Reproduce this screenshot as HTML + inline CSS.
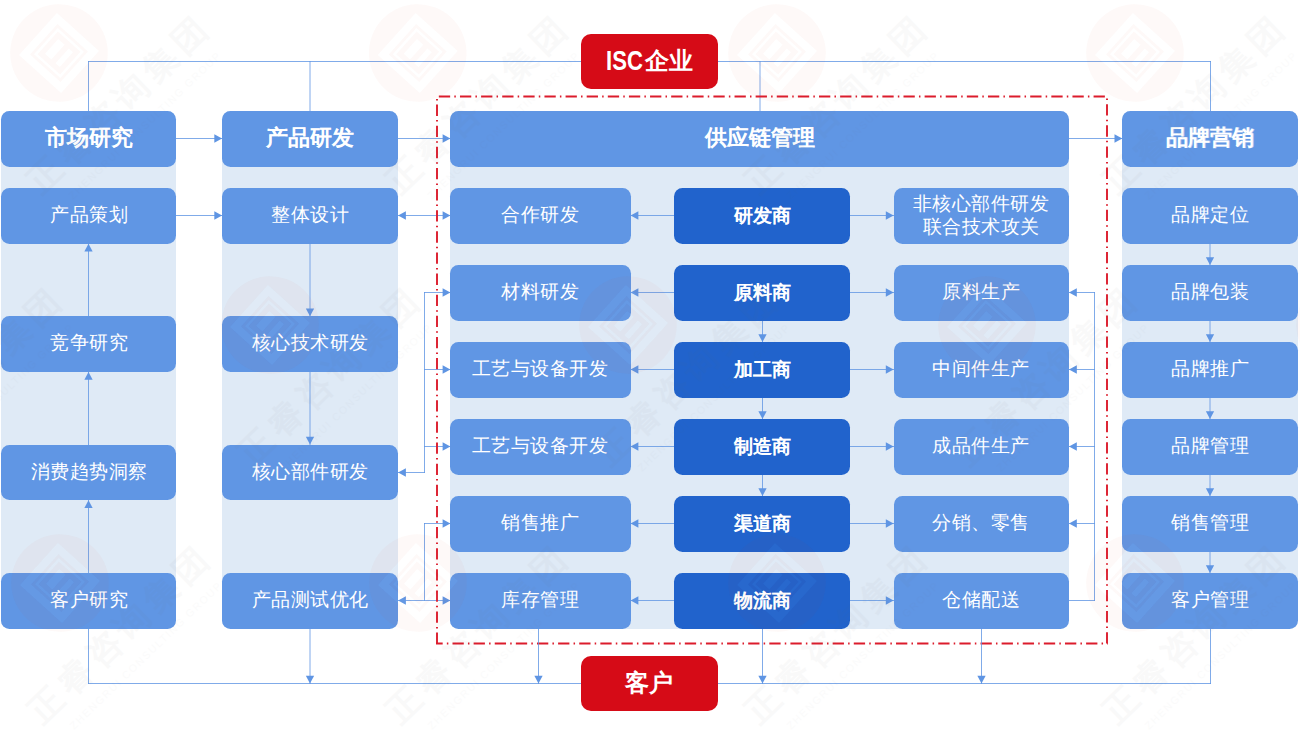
<!DOCTYPE html>
<html><head><meta charset="utf-8"><style>
html,body{margin:0;padding:0;background:#fff;}
body{width:1300px;height:733px;position:relative;overflow:hidden;font-family:"Liberation Sans",sans-serif;}
.bg{position:absolute;background:#dfeaf6;border-radius:8.5px;}
.bx{position:absolute;box-sizing:border-box;background:#6096e4;border-radius:8.5px;color:#fff;display:flex;align-items:center;justify-content:center;text-align:center;font-size:19.5px;line-height:23.5px;}
.bx .t{position:relative;top:-0.9px;transform:scale(0.975);}
.two{line-height:23px;}
.two .t{top:-1.2px;}
.hd{font-weight:bold;font-size:22px;text-shadow:0.35px 0 0 rgba(255,255,255,0.45);}
.hd .t{top:-1.1px;transform:none;}
.dk{background:#2163cc;font-weight:bold;font-size:19px;text-shadow:0.35px 0 0 rgba(255,255,255,0.45);}
.dk .t{top:-0.5px;transform:none;}
.rd{background:#d60b17;font-weight:bold;font-size:25px;border-radius:10px;}
.rd .t{top:-1.0px;transform:scale(0.975);}
.lat{font-size:28px;display:inline-block;transform:scaleX(0.81);transform-origin:right center;margin-right:2px;margin-left:-8.9px;position:relative;top:1px;}
svg{position:absolute;left:0;top:0;}
</style></head><body>
<div class="bg" style="left:0.9px;top:111.05px;width:175.4px;height:517.70px"></div>
<div class="bg" style="left:222.1px;top:111.05px;width:176.0px;height:517.70px"></div>
<div class="bg" style="left:450.4px;top:111.05px;width:618.6px;height:517.70px"></div>
<div class="bg" style="left:1122.3px;top:111.05px;width:176.0px;height:517.70px"></div>
<svg width="1300" height="733" style="z-index:1">
<g stroke="#5f95e3" stroke-width="0.8" fill="none" stroke-linecap="square"><path d="M88.50,61.50L1210.50,61.50"/><path d="M88.50,61.50L88.50,111.05"/><path d="M310.00,61.50L310.00,111.05"/><path d="M760.00,61.50L760.00,111.05"/><path d="M1210.50,61.50L1210.50,111.05"/><path d="M88.50,683.50L1210.50,683.50"/><path d="M88.50,628.75L88.50,683.50"/><path d="M310.00,628.75L310.00,683.50"/><path d="M1210.50,628.75L1210.50,683.50"/><path d="M176.30,138.50L222.10,138.50"/><path d="M398.10,138.50L450.40,138.50"/><path d="M1069.00,138.50L1122.30,138.50"/><path d="M176.30,215.50L222.10,215.50"/><path d="M398.10,215.50L450.40,215.50"/><path d="M630.60,215.50L674.10,215.50"/><path d="M850.10,215.50L893.60,215.50"/><path d="M630.60,292.50L674.10,292.50"/><path d="M850.10,292.50L893.60,292.50"/><path d="M630.60,369.50L674.10,369.50"/><path d="M850.10,369.50L893.60,369.50"/><path d="M630.60,446.50L674.10,446.50"/><path d="M850.10,446.50L893.60,446.50"/><path d="M630.60,523.50L674.10,523.50"/><path d="M850.10,523.50L893.60,523.50"/><path d="M630.60,600.50L674.10,600.50"/><path d="M850.10,600.50L893.60,600.50"/><path d="M424.50,292.50L424.50,472.50"/><path d="M424.50,292.50L450.40,292.50"/><path d="M424.50,369.50L450.40,369.50"/><path d="M424.50,446.50L450.40,446.50"/><path d="M398.10,472.50L424.50,472.50"/><path d="M424.50,523.50L424.50,600.50"/><path d="M424.50,523.50L450.40,523.50"/><path d="M398.10,600.50L450.40,600.50"/><path d="M1069.00,600.50L1094.50,600.50"/><path d="M1094.50,600.50L1094.50,292.50"/><path d="M1069.00,292.50L1094.50,292.50"/><path d="M1069.00,369.50L1094.50,369.50"/><path d="M1069.00,446.50L1094.50,446.50"/><path d="M1069.00,523.50L1094.50,523.50"/><path d="M88.50,316.20L88.50,243.75"/><path d="M88.50,444.60L88.50,371.90"/><path d="M88.50,573.05L88.50,500.30"/><path d="M310.00,243.75L310.00,316.20"/><path d="M310.00,371.90L310.00,444.60"/><path d="M762.50,320.75L762.50,342.05"/><path d="M762.50,397.75L762.50,419.05"/><path d="M762.50,474.75L762.50,496.05"/><path d="M1210.00,243.75L1210.00,265.05"/><path d="M1210.00,320.75L1210.00,342.05"/><path d="M1210.00,397.75L1210.00,419.05"/><path d="M1210.00,474.75L1210.00,496.05"/><path d="M1210.00,551.75L1210.00,573.05"/></g>
<g fill="#5f95e3"><path d="M310.00,683.50L305.85,675.70L314.15,675.70Z"/><path d="M222.10,138.50L214.30,134.35L214.30,142.65Z"/><path d="M450.40,138.50L442.60,134.35L442.60,142.65Z"/><path d="M1122.30,138.50L1114.50,134.35L1114.50,142.65Z"/><path d="M222.10,215.50L214.30,211.35L214.30,219.65Z"/><path d="M450.40,215.50L442.60,211.35L442.60,219.65Z"/><path d="M398.10,215.50L405.90,211.35L405.90,219.65Z"/><path d="M630.60,215.50L638.40,211.35L638.40,219.65Z"/><path d="M893.60,215.50L885.80,211.35L885.80,219.65Z"/><path d="M630.60,292.50L638.40,288.35L638.40,296.65Z"/><path d="M893.60,292.50L885.80,288.35L885.80,296.65Z"/><path d="M630.60,369.50L638.40,365.35L638.40,373.65Z"/><path d="M893.60,369.50L885.80,365.35L885.80,373.65Z"/><path d="M630.60,446.50L638.40,442.35L638.40,450.65Z"/><path d="M893.60,446.50L885.80,442.35L885.80,450.65Z"/><path d="M630.60,523.50L638.40,519.35L638.40,527.65Z"/><path d="M893.60,523.50L885.80,519.35L885.80,527.65Z"/><path d="M630.60,600.50L638.40,596.35L638.40,604.65Z"/><path d="M893.60,600.50L885.80,596.35L885.80,604.65Z"/><path d="M450.40,292.50L442.60,288.35L442.60,296.65Z"/><path d="M450.40,369.50L442.60,365.35L442.60,373.65Z"/><path d="M450.40,446.50L442.60,442.35L442.60,450.65Z"/><path d="M398.10,472.50L405.90,468.35L405.90,476.65Z"/><path d="M450.40,523.50L442.60,519.35L442.60,527.65Z"/><path d="M450.40,600.50L442.60,596.35L442.60,604.65Z"/><path d="M398.10,600.50L405.90,596.35L405.90,604.65Z"/><path d="M1069.00,292.50L1076.80,288.35L1076.80,296.65Z"/><path d="M1069.00,369.50L1076.80,365.35L1076.80,373.65Z"/><path d="M1069.00,446.50L1076.80,442.35L1076.80,450.65Z"/><path d="M1069.00,523.50L1076.80,519.35L1076.80,527.65Z"/><path d="M88.50,243.75L84.35,251.55L92.65,251.55Z"/><path d="M88.50,371.90L84.35,379.70L92.65,379.70Z"/><path d="M88.50,500.30L84.35,508.10L92.65,508.10Z"/><path d="M310.00,316.20L305.85,308.40L314.15,308.40Z"/><path d="M310.00,444.60L305.85,436.80L314.15,436.80Z"/><path d="M762.50,342.05L758.35,334.25L766.65,334.25Z"/><path d="M762.50,419.05L758.35,411.25L766.65,411.25Z"/><path d="M762.50,496.05L758.35,488.25L766.65,488.25Z"/><path d="M1210.00,265.05L1205.85,257.25L1214.15,257.25Z"/><path d="M1210.00,342.05L1205.85,334.25L1214.15,334.25Z"/><path d="M1210.00,419.05L1205.85,411.25L1214.15,411.25Z"/><path d="M1210.00,496.05L1205.85,488.25L1214.15,488.25Z"/><path d="M1210.00,573.05L1205.85,565.25L1214.15,565.25Z"/></g>
<g stroke="#dc1c2c" stroke-width="1.9" fill="none" stroke-dasharray="11.3 4.16 1.5 4.16"><path d="M436.0,96.5L1108.0,96.5" stroke-dashoffset="18.27"/><path d="M437.0,95.5L437.0,644.5" stroke-dashoffset="12.00"/><path d="M1107.0,95.5L1107.0,644.5" stroke-dashoffset="12.40"/><path d="M436.0,643.5L1108.0,643.5" stroke-dashoffset="4.62"/></g>
<g stroke="#5f95e3" stroke-width="0.8" fill="none" stroke-linecap="square"><path d="M538.50,628.75L538.50,683.50"/><path d="M762.50,628.75L762.50,683.50"/><path d="M981.50,628.75L981.50,683.50"/></g>
<g fill="#5f95e3"><path d="M538.50,683.50L534.35,675.70L542.65,675.70Z"/><path d="M762.50,683.50L758.35,675.70L766.65,675.70Z"/><path d="M981.50,683.50L977.35,675.70L985.65,675.70Z"/></g>
</svg>
<div style="position:absolute;left:0;top:0;z-index:2">
<div class="bx hd" style="left:0.9px;top:111.05px;width:175.4px;height:55.7px"><span class="t">市场研究</span></div><div class="bx" style="left:0.9px;top:188.05px;width:175.4px;height:55.7px"><span class="t">产品策划</span></div><div class="bx" style="left:0.9px;top:316.20px;width:175.4px;height:55.7px"><span class="t">竞争研究</span></div><div class="bx" style="left:0.9px;top:444.60px;width:175.4px;height:55.7px"><span class="t">消费趋势洞察</span></div><div class="bx" style="left:0.9px;top:573.05px;width:175.4px;height:55.7px"><span class="t">客户研究</span></div><div class="bx hd" style="left:222.1px;top:111.05px;width:176.0px;height:55.7px"><span class="t">产品研发</span></div><div class="bx" style="left:222.1px;top:188.05px;width:176.0px;height:55.7px"><span class="t">整体设计</span></div><div class="bx" style="left:222.1px;top:316.20px;width:176.0px;height:55.7px"><span class="t">核心技术研发</span></div><div class="bx" style="left:222.1px;top:444.60px;width:176.0px;height:55.7px"><span class="t">核心部件研发</span></div><div class="bx" style="left:222.1px;top:573.05px;width:176.0px;height:55.7px"><span class="t">产品测试优化</span></div><div class="bx hd" style="left:450.4px;top:111.05px;width:618.6px;height:55.7px"><span class="t">供应链管理</span></div><div class="bx" style="left:450.4px;top:188.05px;width:180.2px;height:55.7px"><span class="t">合作研发</span></div><div class="bx dk" style="left:674.1px;top:188.05px;width:176.0px;height:55.7px"><span class="t">研发商</span></div><div class="bx two" style="left:893.6px;top:188.05px;width:175.4px;height:55.7px"><span class="t">非核心部件研发<br>联合技术攻关</span></div><div class="bx" style="left:450.4px;top:265.05px;width:180.2px;height:55.7px"><span class="t">材料研发</span></div><div class="bx dk" style="left:674.1px;top:265.05px;width:176.0px;height:55.7px"><span class="t">原料商</span></div><div class="bx" style="left:893.6px;top:265.05px;width:175.4px;height:55.7px"><span class="t">原料生产</span></div><div class="bx" style="left:450.4px;top:342.05px;width:180.2px;height:55.7px"><span class="t">工艺与设备开发</span></div><div class="bx dk" style="left:674.1px;top:342.05px;width:176.0px;height:55.7px"><span class="t">加工商</span></div><div class="bx" style="left:893.6px;top:342.05px;width:175.4px;height:55.7px"><span class="t">中间件生产</span></div><div class="bx" style="left:450.4px;top:419.05px;width:180.2px;height:55.7px"><span class="t">工艺与设备开发</span></div><div class="bx dk" style="left:674.1px;top:419.05px;width:176.0px;height:55.7px"><span class="t">制造商</span></div><div class="bx" style="left:893.6px;top:419.05px;width:175.4px;height:55.7px"><span class="t">成品件生产</span></div><div class="bx" style="left:450.4px;top:496.05px;width:180.2px;height:55.7px"><span class="t">销售推广</span></div><div class="bx dk" style="left:674.1px;top:496.05px;width:176.0px;height:55.7px"><span class="t">渠道商</span></div><div class="bx" style="left:893.6px;top:496.05px;width:175.4px;height:55.7px"><span class="t">分销、零售</span></div><div class="bx" style="left:450.4px;top:573.05px;width:180.2px;height:55.7px"><span class="t">库存管理</span></div><div class="bx dk" style="left:674.1px;top:573.05px;width:176.0px;height:55.7px"><span class="t">物流商</span></div><div class="bx" style="left:893.6px;top:573.05px;width:175.4px;height:55.7px"><span class="t">仓储配送</span></div><div class="bx hd" style="left:1122.3px;top:111.05px;width:176.0px;height:55.7px"><span class="t">品牌营销</span></div><div class="bx" style="left:1122.3px;top:188.05px;width:176.0px;height:55.7px"><span class="t">品牌定位</span></div><div class="bx" style="left:1122.3px;top:265.05px;width:176.0px;height:55.7px"><span class="t">品牌包装</span></div><div class="bx" style="left:1122.3px;top:342.05px;width:176.0px;height:55.7px"><span class="t">品牌推广</span></div><div class="bx" style="left:1122.3px;top:419.05px;width:176.0px;height:55.7px"><span class="t">品牌管理</span></div><div class="bx" style="left:1122.3px;top:496.05px;width:176.0px;height:55.7px"><span class="t">销售管理</span></div><div class="bx" style="left:1122.3px;top:573.05px;width:176.0px;height:55.7px"><span class="t">客户管理</span></div><div class="bx rd" style="left:580.9px;top:33.70px;width:137.2px;height:55.7px"><span class="t"><span class="lat">ISC</span>企业</span></div><div class="bx rd" style="left:580.9px;top:655.80px;width:137.2px;height:55.7px"><span class="t">客户</span></div>
</div>
<svg width="1300" height="733" style="z-index:3;pointer-events:none;font-family:'Liberation Sans',sans-serif"><g transform="translate(59,53)"><g transform="rotate(-3)"><path fill-rule="evenodd" fill="#dc3228" opacity="0.03" d="M-48.8,0A48.8,48.8 0 1 0 48.8,0A48.8,48.8 0 1 0 -48.8,0Z M0,-40L40,0L0,40L-40,0Z M0,-29L29,0L0,29L-29,0Z M0,-25L25,0L0,25L-25,0Z M0,-21.5L21.5,0L0,21.5L-21.5,0Z M-14,0L0,-14L6,-8L-8,6Z M-4,10L10,-4L14,0L0,14Z"/><path fill-rule="evenodd" fill="#fff" opacity="0.035" d="M0,-40L40,0L0,40L-40,0Z M0,-29L29,0L0,29L-29,0Z M0,-25L25,0L0,25L-25,0Z M0,-21.5L21.5,0L0,21.5L-21.5,0Z M-14,0L0,-14L6,-8L-8,6Z M-4,10L10,-4L14,0L0,14Z"/></g><text transform="translate(-18,142) rotate(-44)" font-size="34" font-weight="bold" letter-spacing="6" fill="#666" opacity="0.035">正睿咨询集团</text><text transform="translate(14,147) rotate(-44)" font-size="10.5" letter-spacing="1.6" fill="#666" opacity="0.025">ZHENGRUI CONSULTING GROUP</text></g><g transform="translate(417.7,53)"><g transform="rotate(-3)"><path fill-rule="evenodd" fill="#dc3228" opacity="0.03" d="M-48.8,0A48.8,48.8 0 1 0 48.8,0A48.8,48.8 0 1 0 -48.8,0Z M0,-40L40,0L0,40L-40,0Z M0,-29L29,0L0,29L-29,0Z M0,-25L25,0L0,25L-25,0Z M0,-21.5L21.5,0L0,21.5L-21.5,0Z M-14,0L0,-14L6,-8L-8,6Z M-4,10L10,-4L14,0L0,14Z"/><path fill-rule="evenodd" fill="#fff" opacity="0.035" d="M0,-40L40,0L0,40L-40,0Z M0,-29L29,0L0,29L-29,0Z M0,-25L25,0L0,25L-25,0Z M0,-21.5L21.5,0L0,21.5L-21.5,0Z M-14,0L0,-14L6,-8L-8,6Z M-4,10L10,-4L14,0L0,14Z"/></g><text transform="translate(-18,142) rotate(-44)" font-size="34" font-weight="bold" letter-spacing="6" fill="#666" opacity="0.035">正睿咨询集团</text><text transform="translate(14,147) rotate(-44)" font-size="10.5" letter-spacing="1.6" fill="#666" opacity="0.025">ZHENGRUI CONSULTING GROUP</text></g><g transform="translate(777,53)"><g transform="rotate(-3)"><path fill-rule="evenodd" fill="#dc3228" opacity="0.03" d="M-48.8,0A48.8,48.8 0 1 0 48.8,0A48.8,48.8 0 1 0 -48.8,0Z M0,-40L40,0L0,40L-40,0Z M0,-29L29,0L0,29L-29,0Z M0,-25L25,0L0,25L-25,0Z M0,-21.5L21.5,0L0,21.5L-21.5,0Z M-14,0L0,-14L6,-8L-8,6Z M-4,10L10,-4L14,0L0,14Z"/><path fill-rule="evenodd" fill="#fff" opacity="0.035" d="M0,-40L40,0L0,40L-40,0Z M0,-29L29,0L0,29L-29,0Z M0,-25L25,0L0,25L-25,0Z M0,-21.5L21.5,0L0,21.5L-21.5,0Z M-14,0L0,-14L6,-8L-8,6Z M-4,10L10,-4L14,0L0,14Z"/></g><text transform="translate(-18,142) rotate(-44)" font-size="34" font-weight="bold" letter-spacing="6" fill="#666" opacity="0.035">正睿咨询集团</text><text transform="translate(14,147) rotate(-44)" font-size="10.5" letter-spacing="1.6" fill="#666" opacity="0.025">ZHENGRUI CONSULTING GROUP</text></g><g transform="translate(1135,53)"><g transform="rotate(-3)"><path fill-rule="evenodd" fill="#dc3228" opacity="0.03" d="M-48.8,0A48.8,48.8 0 1 0 48.8,0A48.8,48.8 0 1 0 -48.8,0Z M0,-40L40,0L0,40L-40,0Z M0,-29L29,0L0,29L-29,0Z M0,-25L25,0L0,25L-25,0Z M0,-21.5L21.5,0L0,21.5L-21.5,0Z M-14,0L0,-14L6,-8L-8,6Z M-4,10L10,-4L14,0L0,14Z"/><path fill-rule="evenodd" fill="#fff" opacity="0.035" d="M0,-40L40,0L0,40L-40,0Z M0,-29L29,0L0,29L-29,0Z M0,-25L25,0L0,25L-25,0Z M0,-21.5L21.5,0L0,21.5L-21.5,0Z M-14,0L0,-14L6,-8L-8,6Z M-4,10L10,-4L14,0L0,14Z"/></g><text transform="translate(-18,142) rotate(-44)" font-size="34" font-weight="bold" letter-spacing="6" fill="#666" opacity="0.035">正睿咨询集团</text><text transform="translate(14,147) rotate(-44)" font-size="10.5" letter-spacing="1.6" fill="#666" opacity="0.025">ZHENGRUI CONSULTING GROUP</text></g><g transform="translate(-88,325)"><g transform="rotate(-3)"><path fill-rule="evenodd" fill="#dc3228" opacity="0.03" d="M-48.8,0A48.8,48.8 0 1 0 48.8,0A48.8,48.8 0 1 0 -48.8,0Z M0,-40L40,0L0,40L-40,0Z M0,-29L29,0L0,29L-29,0Z M0,-25L25,0L0,25L-25,0Z M0,-21.5L21.5,0L0,21.5L-21.5,0Z M-14,0L0,-14L6,-8L-8,6Z M-4,10L10,-4L14,0L0,14Z"/><path fill-rule="evenodd" fill="#fff" opacity="0.035" d="M0,-40L40,0L0,40L-40,0Z M0,-29L29,0L0,29L-29,0Z M0,-25L25,0L0,25L-25,0Z M0,-21.5L21.5,0L0,21.5L-21.5,0Z M-14,0L0,-14L6,-8L-8,6Z M-4,10L10,-4L14,0L0,14Z"/></g><text transform="translate(-18,142) rotate(-44)" font-size="34" font-weight="bold" letter-spacing="6" fill="#666" opacity="0.035">正睿咨询集团</text><text transform="translate(14,147) rotate(-44)" font-size="10.5" letter-spacing="1.6" fill="#666" opacity="0.025">ZHENGRUI CONSULTING GROUP</text></g><g transform="translate(270,325)"><g transform="rotate(-3)"><path fill-rule="evenodd" fill="#dc3228" opacity="0.03" d="M-48.8,0A48.8,48.8 0 1 0 48.8,0A48.8,48.8 0 1 0 -48.8,0Z M0,-40L40,0L0,40L-40,0Z M0,-29L29,0L0,29L-29,0Z M0,-25L25,0L0,25L-25,0Z M0,-21.5L21.5,0L0,21.5L-21.5,0Z M-14,0L0,-14L6,-8L-8,6Z M-4,10L10,-4L14,0L0,14Z"/><path fill-rule="evenodd" fill="#fff" opacity="0.035" d="M0,-40L40,0L0,40L-40,0Z M0,-29L29,0L0,29L-29,0Z M0,-25L25,0L0,25L-25,0Z M0,-21.5L21.5,0L0,21.5L-21.5,0Z M-14,0L0,-14L6,-8L-8,6Z M-4,10L10,-4L14,0L0,14Z"/></g><text transform="translate(-18,142) rotate(-44)" font-size="34" font-weight="bold" letter-spacing="6" fill="#666" opacity="0.035">正睿咨询集团</text><text transform="translate(14,147) rotate(-44)" font-size="10.5" letter-spacing="1.6" fill="#666" opacity="0.025">ZHENGRUI CONSULTING GROUP</text></g><g transform="translate(628,325)"><g transform="rotate(-3)"><path fill-rule="evenodd" fill="#dc3228" opacity="0.03" d="M-48.8,0A48.8,48.8 0 1 0 48.8,0A48.8,48.8 0 1 0 -48.8,0Z M0,-40L40,0L0,40L-40,0Z M0,-29L29,0L0,29L-29,0Z M0,-25L25,0L0,25L-25,0Z M0,-21.5L21.5,0L0,21.5L-21.5,0Z M-14,0L0,-14L6,-8L-8,6Z M-4,10L10,-4L14,0L0,14Z"/><path fill-rule="evenodd" fill="#fff" opacity="0.035" d="M0,-40L40,0L0,40L-40,0Z M0,-29L29,0L0,29L-29,0Z M0,-25L25,0L0,25L-25,0Z M0,-21.5L21.5,0L0,21.5L-21.5,0Z M-14,0L0,-14L6,-8L-8,6Z M-4,10L10,-4L14,0L0,14Z"/></g><text transform="translate(-18,142) rotate(-44)" font-size="34" font-weight="bold" letter-spacing="6" fill="#666" opacity="0.035">正睿咨询集团</text><text transform="translate(14,147) rotate(-44)" font-size="10.5" letter-spacing="1.6" fill="#666" opacity="0.025">ZHENGRUI CONSULTING GROUP</text></g><g transform="translate(987,325)"><g transform="rotate(-3)"><path fill-rule="evenodd" fill="#dc3228" opacity="0.03" d="M-48.8,0A48.8,48.8 0 1 0 48.8,0A48.8,48.8 0 1 0 -48.8,0Z M0,-40L40,0L0,40L-40,0Z M0,-29L29,0L0,29L-29,0Z M0,-25L25,0L0,25L-25,0Z M0,-21.5L21.5,0L0,21.5L-21.5,0Z M-14,0L0,-14L6,-8L-8,6Z M-4,10L10,-4L14,0L0,14Z"/><path fill-rule="evenodd" fill="#fff" opacity="0.035" d="M0,-40L40,0L0,40L-40,0Z M0,-29L29,0L0,29L-29,0Z M0,-25L25,0L0,25L-25,0Z M0,-21.5L21.5,0L0,21.5L-21.5,0Z M-14,0L0,-14L6,-8L-8,6Z M-4,10L10,-4L14,0L0,14Z"/></g><text transform="translate(-18,142) rotate(-44)" font-size="34" font-weight="bold" letter-spacing="6" fill="#666" opacity="0.035">正睿咨询集团</text><text transform="translate(14,147) rotate(-44)" font-size="10.5" letter-spacing="1.6" fill="#666" opacity="0.025">ZHENGRUI CONSULTING GROUP</text></g><g transform="translate(1345,325)"><g transform="rotate(-3)"><path fill-rule="evenodd" fill="#dc3228" opacity="0.03" d="M-48.8,0A48.8,48.8 0 1 0 48.8,0A48.8,48.8 0 1 0 -48.8,0Z M0,-40L40,0L0,40L-40,0Z M0,-29L29,0L0,29L-29,0Z M0,-25L25,0L0,25L-25,0Z M0,-21.5L21.5,0L0,21.5L-21.5,0Z M-14,0L0,-14L6,-8L-8,6Z M-4,10L10,-4L14,0L0,14Z"/><path fill-rule="evenodd" fill="#fff" opacity="0.035" d="M0,-40L40,0L0,40L-40,0Z M0,-29L29,0L0,29L-29,0Z M0,-25L25,0L0,25L-25,0Z M0,-21.5L21.5,0L0,21.5L-21.5,0Z M-14,0L0,-14L6,-8L-8,6Z M-4,10L10,-4L14,0L0,14Z"/></g><text transform="translate(-18,142) rotate(-44)" font-size="34" font-weight="bold" letter-spacing="6" fill="#666" opacity="0.035">正睿咨询集团</text><text transform="translate(14,147) rotate(-44)" font-size="10.5" letter-spacing="1.6" fill="#666" opacity="0.025">ZHENGRUI CONSULTING GROUP</text></g><g transform="translate(60,583)"><g transform="rotate(-3)"><path fill-rule="evenodd" fill="#dc3228" opacity="0.03" d="M-48.8,0A48.8,48.8 0 1 0 48.8,0A48.8,48.8 0 1 0 -48.8,0Z M0,-40L40,0L0,40L-40,0Z M0,-29L29,0L0,29L-29,0Z M0,-25L25,0L0,25L-25,0Z M0,-21.5L21.5,0L0,21.5L-21.5,0Z M-14,0L0,-14L6,-8L-8,6Z M-4,10L10,-4L14,0L0,14Z"/><path fill-rule="evenodd" fill="#fff" opacity="0.035" d="M0,-40L40,0L0,40L-40,0Z M0,-29L29,0L0,29L-29,0Z M0,-25L25,0L0,25L-25,0Z M0,-21.5L21.5,0L0,21.5L-21.5,0Z M-14,0L0,-14L6,-8L-8,6Z M-4,10L10,-4L14,0L0,14Z"/></g><text transform="translate(-18,142) rotate(-44)" font-size="34" font-weight="bold" letter-spacing="6" fill="#666" opacity="0.035">正睿咨询集团</text><text transform="translate(14,147) rotate(-44)" font-size="10.5" letter-spacing="1.6" fill="#666" opacity="0.025">ZHENGRUI CONSULTING GROUP</text></g><g transform="translate(418,583)"><g transform="rotate(-3)"><path fill-rule="evenodd" fill="#dc3228" opacity="0.03" d="M-48.8,0A48.8,48.8 0 1 0 48.8,0A48.8,48.8 0 1 0 -48.8,0Z M0,-40L40,0L0,40L-40,0Z M0,-29L29,0L0,29L-29,0Z M0,-25L25,0L0,25L-25,0Z M0,-21.5L21.5,0L0,21.5L-21.5,0Z M-14,0L0,-14L6,-8L-8,6Z M-4,10L10,-4L14,0L0,14Z"/><path fill-rule="evenodd" fill="#fff" opacity="0.035" d="M0,-40L40,0L0,40L-40,0Z M0,-29L29,0L0,29L-29,0Z M0,-25L25,0L0,25L-25,0Z M0,-21.5L21.5,0L0,21.5L-21.5,0Z M-14,0L0,-14L6,-8L-8,6Z M-4,10L10,-4L14,0L0,14Z"/></g><text transform="translate(-18,142) rotate(-44)" font-size="34" font-weight="bold" letter-spacing="6" fill="#666" opacity="0.035">正睿咨询集团</text><text transform="translate(14,147) rotate(-44)" font-size="10.5" letter-spacing="1.6" fill="#666" opacity="0.025">ZHENGRUI CONSULTING GROUP</text></g><g transform="translate(777,583)"><g transform="rotate(-3)"><path fill-rule="evenodd" fill="#dc3228" opacity="0.03" d="M-48.8,0A48.8,48.8 0 1 0 48.8,0A48.8,48.8 0 1 0 -48.8,0Z M0,-40L40,0L0,40L-40,0Z M0,-29L29,0L0,29L-29,0Z M0,-25L25,0L0,25L-25,0Z M0,-21.5L21.5,0L0,21.5L-21.5,0Z M-14,0L0,-14L6,-8L-8,6Z M-4,10L10,-4L14,0L0,14Z"/><path fill-rule="evenodd" fill="#fff" opacity="0.035" d="M0,-40L40,0L0,40L-40,0Z M0,-29L29,0L0,29L-29,0Z M0,-25L25,0L0,25L-25,0Z M0,-21.5L21.5,0L0,21.5L-21.5,0Z M-14,0L0,-14L6,-8L-8,6Z M-4,10L10,-4L14,0L0,14Z"/></g><text transform="translate(-18,142) rotate(-44)" font-size="34" font-weight="bold" letter-spacing="6" fill="#666" opacity="0.035">正睿咨询集团</text><text transform="translate(14,147) rotate(-44)" font-size="10.5" letter-spacing="1.6" fill="#666" opacity="0.025">ZHENGRUI CONSULTING GROUP</text></g><g transform="translate(1135,583)"><g transform="rotate(-3)"><path fill-rule="evenodd" fill="#dc3228" opacity="0.03" d="M-48.8,0A48.8,48.8 0 1 0 48.8,0A48.8,48.8 0 1 0 -48.8,0Z M0,-40L40,0L0,40L-40,0Z M0,-29L29,0L0,29L-29,0Z M0,-25L25,0L0,25L-25,0Z M0,-21.5L21.5,0L0,21.5L-21.5,0Z M-14,0L0,-14L6,-8L-8,6Z M-4,10L10,-4L14,0L0,14Z"/><path fill-rule="evenodd" fill="#fff" opacity="0.035" d="M0,-40L40,0L0,40L-40,0Z M0,-29L29,0L0,29L-29,0Z M0,-25L25,0L0,25L-25,0Z M0,-21.5L21.5,0L0,21.5L-21.5,0Z M-14,0L0,-14L6,-8L-8,6Z M-4,10L10,-4L14,0L0,14Z"/></g><text transform="translate(-18,142) rotate(-44)" font-size="34" font-weight="bold" letter-spacing="6" fill="#666" opacity="0.035">正睿咨询集团</text><text transform="translate(14,147) rotate(-44)" font-size="10.5" letter-spacing="1.6" fill="#666" opacity="0.025">ZHENGRUI CONSULTING GROUP</text></g></svg>
</body></html>
